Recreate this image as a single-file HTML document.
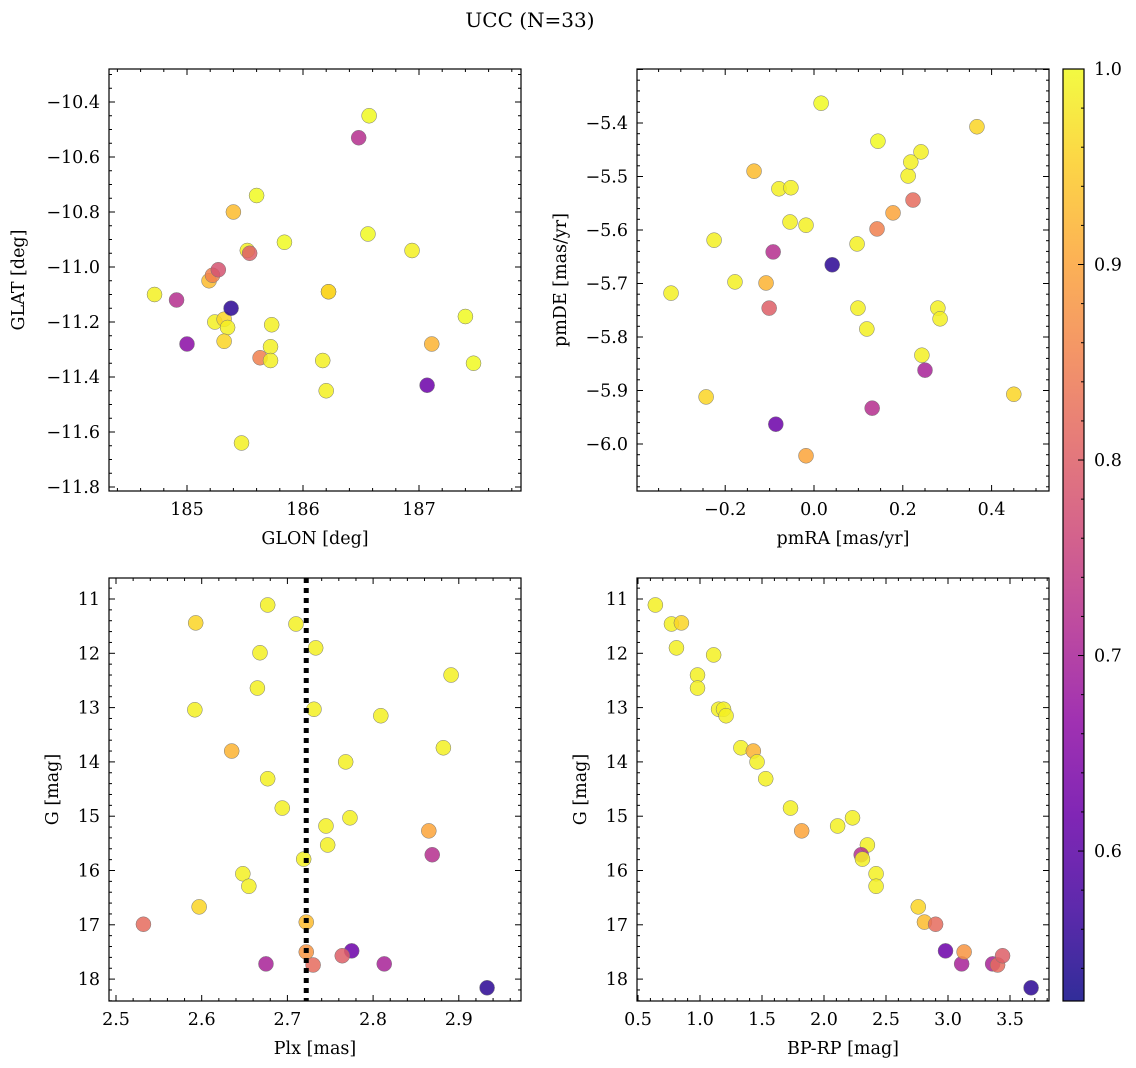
<!DOCTYPE html>
<html><head><meta charset="utf-8"><style>
html,body{margin:0;padding:0;background:#fff;}
svg{display:block;font-family:"DejaVu Serif","Liberation Serif",serif;}
</style></head><body>
<svg id="fig" width="1136" height="1068" viewBox="0 0 1136 1068" xmlns="http://www.w3.org/2000/svg">
<text x="530" y="27" font-size="20" text-anchor="middle">UCC (N=33)</text>
</svg>
<script>
// ---- data ----
const glon = [184.72,184.91,185.00,185.19,185.22,185.27,185.24,185.32,185.35,185.32,185.38,185.40,185.52,185.54,185.60,185.63,185.72,185.73,185.72,185.47,185.84,186.17,186.20,186.22,186.22,186.56,186.48,186.57,186.94,187.11,187.07,187.40,187.47];
const glat = [-11.10,-11.12,-11.28,-11.05,-11.03,-11.01,-11.20,-11.19,-11.22,-11.27,-11.15,-10.80,-10.94,-10.95,-10.74,-11.33,-11.29,-11.21,-11.34,-11.64,-10.91,-11.34,-11.45,-11.09,-11.09,-10.88,-10.53,-10.45,-10.94,-11.28,-11.43,-11.18,-11.35];
const probTL = [0.99,0.72,0.66,0.93,0.85,0.78,0.99,0.96,0.99,0.96,0.55,0.93,0.99,0.80,1.0,0.85,0.99,0.99,0.99,0.99,1.0,0.99,0.99,0.96,0.96,1.0,0.72,1.0,0.99,0.92,0.62,1.0,1.0];

const pmra = [-0.322,-0.225,-0.243,-0.178,-0.135,-0.108,-0.101,-0.092,-0.079,-0.052,-0.054,-0.018,-0.086,0.016,0.041,-0.018,0.097,0.099,0.119,0.131,0.142,0.144,0.178,0.212,0.218,0.223,0.241,0.243,0.250,0.279,0.284,0.367,0.450];
const pmde = [-5.718,-5.619,-5.912,-5.697,-5.490,-5.699,-5.746,-5.641,-5.523,-5.521,-5.585,-5.591,-5.963,-5.363,-5.665,-6.022,-5.626,-5.746,-5.785,-5.933,-5.598,-5.434,-5.568,-5.499,-5.473,-5.544,-5.454,-5.834,-5.862,-5.746,-5.766,-5.407,-5.907];
const probTR = [0.99,0.99,0.96,0.99,0.93,0.92,0.80,0.72,0.99,0.99,0.99,0.99,0.62,1.0,0.55,0.90,0.99,0.99,0.99,0.72,0.85,1.0,0.90,0.99,0.99,0.82,0.99,0.99,0.70,0.99,0.99,0.96,0.96];

const plx = [2.532,2.593,2.592,2.597,2.635,2.648,2.655,2.668,2.665,2.677,2.677,2.675,2.694,2.710,2.719,2.722,2.722,2.730,2.733,2.731,2.745,2.747,2.768,2.773,2.775,2.764,2.809,2.813,2.865,2.869,2.882,2.891,2.933];
const gBL = [16.99,11.44,13.04,16.67,13.80,16.06,16.29,11.99,12.64,11.11,14.31,17.72,14.85,11.46,15.79,16.95,17.50,17.74,11.90,13.03,15.18,15.53,14.00,15.03,17.48,17.57,13.15,17.72,15.27,15.71,13.74,12.40,18.16];
const probBL = [0.82,0.96,0.99,0.96,0.92,0.99,0.99,0.99,0.99,0.99,0.99,0.70,0.99,0.99,0.99,0.93,0.88,0.82,0.99,0.99,0.99,0.99,0.99,0.99,0.62,0.80,0.99,0.70,0.90,0.72,0.99,0.99,0.55];
const plxMedian = 2.722;

const bprp = [0.64,0.77,0.85,0.81,0.98,0.98,1.11,1.15,1.19,1.21,1.33,1.43,1.46,1.53,1.73,1.82,2.11,2.23,2.35,2.30,2.31,2.42,2.42,2.76,2.81,2.90,2.98,3.11,3.13,3.36,3.40,3.44,3.67];
const gBR = [11.11,11.46,11.44,11.90,12.40,12.64,12.03,13.03,13.03,13.15,13.74,13.80,14.00,14.31,14.85,15.27,15.18,15.03,15.53,15.71,15.79,16.06,16.29,16.67,16.95,16.99,17.48,17.72,17.50,17.72,17.74,17.57,18.16];
const probBR = [0.99,0.99,0.96,0.99,0.99,0.99,0.99,0.99,0.99,0.99,0.99,0.92,0.99,0.99,0.99,0.90,0.99,0.99,0.99,0.72,0.99,0.99,0.99,0.96,0.93,0.82,0.62,0.70,0.88,0.70,0.82,0.80,0.55];

const cbTicks = [0.6,0.7,0.8,0.9,1.0];
const cbMin = 0.5233, cbMax = 1.0;

// ---- helpers ----
const NS = "http://www.w3.org/2000/svg";
const svg = document.getElementById('fig');
function mk(tag, attrs, parent){const e=document.createElementNS(NS,tag);for(const k in attrs)e.setAttribute(k,attrs[k]);(parent||svg).appendChild(e);return e;}
const stops=[[13,8,135],[65,4,157],[106,0,168],[143,13,164],[177,42,144],[204,71,120],[225,100,98],[242,132,75],[252,166,54],[252,206,37],[240,249,33]];
function plasma(t){t=Math.max(0,Math.min(1,t));const f=t*10,i=Math.min(9,Math.floor(f)),r=f-i;const a=stops[i],b=stops[i+1];return `rgb(${a.map((v,k)=>Math.round(v+(b[k]-v)*r)).join(',')})`;}
function cmap(p){return plasma((p-cbMin)/(cbMax-cbMin));}
function fmt(v,d){const s=Math.abs(v).toFixed(d);return (v<-1e-9?'\u2212':'')+s;}

function panel(o){
  const g=mk('g',{});
  
  
  const sx=v=>o.px0+(v-o.x0)*o.kx, sy=v=>o.py0+(v-o.y0)*o.ky;
  for(let i=0;i<o.xs.length;i++){
    const c=mk('circle',{cx:sx(o.xs[i]),cy:sy(o.ys[i]),r:7.5,fill:cmap(o.ps[i]),'fill-opacity':0.85,stroke:'#777','stroke-width':0.5},g);
    
    
  }
  if(o.vline!==undefined){
    const l=mk('line',{x1:sx(o.vline),x2:sx(o.vline),y1:o.T,y2:o.B,stroke:'#000','stroke-width':5,'stroke-dasharray':'5,5'},g);
    
    
  }
  const fr=mk('rect',{x:o.L,y:o.T,width:o.R-o.L,height:o.B-o.T,fill:'none',stroke:'#000','stroke-width':1.2},g);
  
  
  for(let v=o.xmaj[0]-o.xmaj[2]; v<=o.xmaj[1]+o.xmaj[2]+1e-9; v+=o.xmin){
    const x=sx(v); if(x<o.L-0.5||x>o.R+0.5) continue;
    const isMaj=Math.abs((v-o.xmaj[0])/o.xmaj[2]-Math.round((v-o.xmaj[0])/o.xmaj[2]))<1e-6;
    const len=isMaj?6:3;
    mk('line',{x1:x,x2:x,y1:o.B,y2:o.B-len,stroke:'#000','stroke-width':1},g);
    mk('line',{x1:x,x2:x,y1:o.T,y2:o.T+len,stroke:'#000','stroke-width':1},g);
    if(isMaj && x<o.R-3){const t=mk('text',{x:x,y:o.B+24,'font-size':17.5,'text-anchor':'middle'},g);t.textContent=fmt(v,o.xd);
      
      }
  }
  for(let v=o.ymaj[0]-o.ymaj[2]; v<=o.ymaj[1]+o.ymaj[2]+1e-9; v+=o.ymin){
    const y=sy(v); if(y<o.T-0.5||y>o.B+0.5) continue;
    const isMaj=Math.abs((v-o.ymaj[0])/o.ymaj[2]-Math.round((v-o.ymaj[0])/o.ymaj[2]))<1e-6;
    const len=isMaj?6:3;
    mk('line',{x1:o.L,x2:o.L+len,y1:y,y2:y,stroke:'#000','stroke-width':1},g);
    mk('line',{x1:o.R,x2:o.R-len,y1:y,y2:y,stroke:'#000','stroke-width':1},g);
    if(isMaj && y>o.T+3){const t=mk('text',{x:o.L-9,y:y+6,'font-size':17.5,'text-anchor':'end'},g);t.textContent=fmt(v,o.yd);
      
      }
  }
  const xl=mk('text',{x:(o.L+o.R)/2,y:o.B+53,'font-size':17.5,'text-anchor':'middle'},g);xl.textContent=o.xlab;
  
  
  const yx=o.ylx, yy=(o.T+o.B)/2;
  const yl=mk('text',{x:yx,y:yy,'font-size':17.5,'text-anchor':'middle',transform:`rotate(-90 ${yx} ${yy})`},g);yl.textContent=o.ylab;
  
  
}

panel({name:'glon-glat-panel',L:109,R:521,T:69,B:491,px0:187,x0:185,kx:116,py0:102,y0:-10.4,ky:-275,
  xs:glon,ys:glat,ps:probTL,xmaj:[185,187,1],xmin:0.2,xd:0,ymaj:[-11.8,-10.4,0.2],ymin:0.05,yd:1,
  xlab:'GLON [deg]',ylab:'GLAT [deg]',ylx:24});
panel({name:'pm-panel',L:637,R:1049,T:69,B:491,px0:814,x0:0,kx:444,py0:123,y0:-5.4,ky:-535,
  xs:pmra,ys:pmde,ps:probTR,xmaj:[-0.2,0.4,0.2],xmin:0.05,xd:1,ymaj:[-6.0,-5.4,0.1],ymin:0.02,yd:1,
  xlab:'pmRA [mas/yr]',ylab:'pmDE [mas/yr]',ylx:566});
panel({name:'plx-g-panel',L:109,R:521,T:578,B:1001,px0:116,x0:2.5,kx:857,py0:599,y0:11,ky:54.3,
  xs:plx,ys:gBL,ps:probBL,vline:plxMedian,xmaj:[2.5,2.9,0.1],xmin:0.02,xd:1,ymaj:[11,18,1],ymin:0.2,yd:0,
  xlab:'Plx [mas]',ylab:'G [mag]',ylx:58});
panel({name:'cmd-panel',L:637,R:1049,T:578,B:1001,px0:638,x0:0.5,kx:124,py0:599,y0:11,ky:54.3,
  xs:bprp,ys:gBR,ps:probBR,xmaj:[0.5,3.5,0.5],xmin:0.1,xd:1,ymaj:[11,18,1],ymin:0.2,yd:0,
  xlab:'BP-RP [mag]',ylab:'G [mag]',ylx:586});

const cbT=69,cbB=1001,cbL=1063,cbR=1084;
const defs=mk('defs',{});
const grad=mk('linearGradient',{id:'cbg',x1:0,y1:1,x2:0,y2:0},defs);
for(let i=0;i<=20;i++){mk('stop',{offset:i/20,'stop-color':plasma(i/20),'stop-opacity':0.85},grad);}
const cb=mk('g',{});


mk('rect',{x:cbL,y:cbT,width:cbR-cbL,height:cbB-cbT,fill:'url(#cbg)',stroke:'#000','stroke-width':1.2},cb);
const cy=v=>cbB-(v-cbMin)/(cbMax-cbMin)*(cbB-cbT);
for(let v=0.54;v<=1.0001;v+=0.02){const y=cy(v);const maj=cbTicks.some(t=>Math.abs(t-v)<1e-6);
  mk('line',{x1:cbR,x2:cbR-(maj?6:3),y1:y,y2:y,stroke:'#000','stroke-width':1},cb);}
cbTicks.forEach(v=>{const t=mk('text',{x:cbR+10,y:cy(v)+6,'font-size':17.5},cb);t.textContent=v.toFixed(1);
  
  });
</script>
</body></html>
